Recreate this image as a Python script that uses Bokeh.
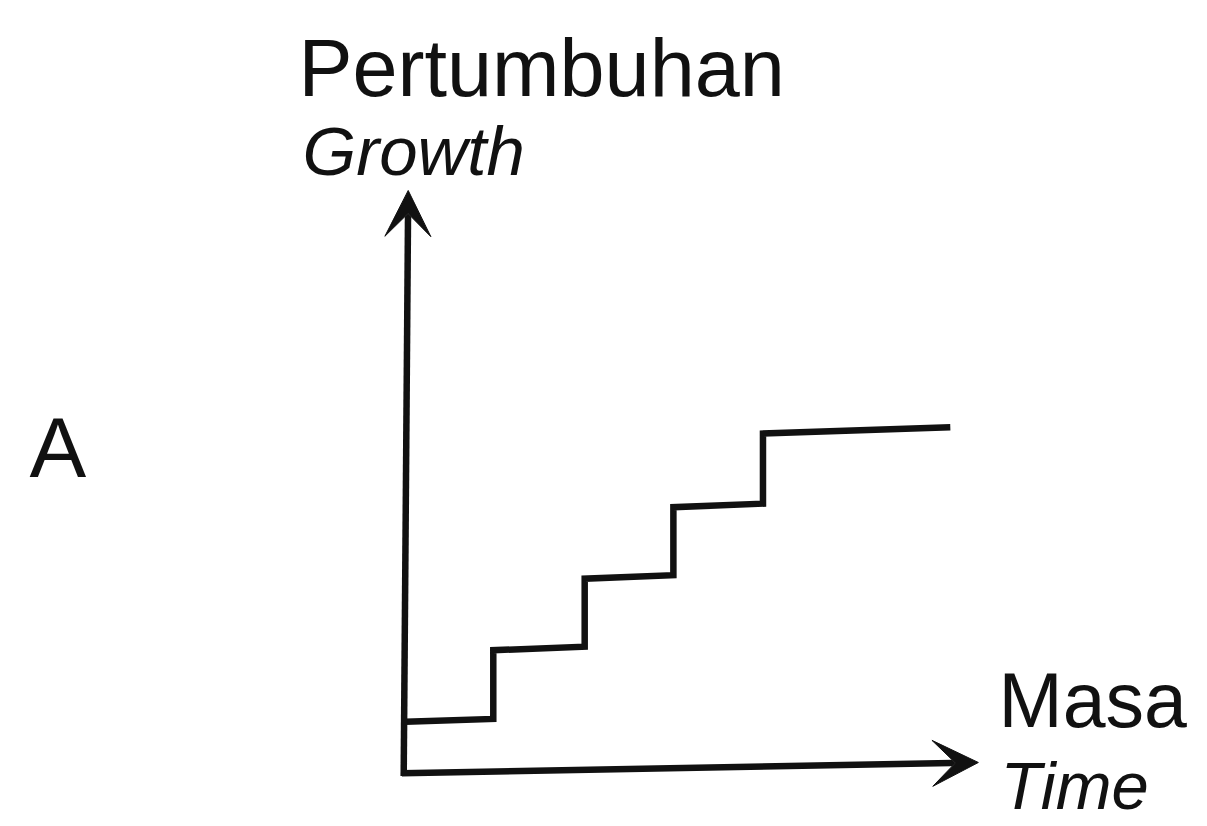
from bokeh.plotting import figure
from bokeh.models import Range1d, Arrow, VeeHead, Label
from bokeh.embed import file_html
from bokeh.resources import INLINE

# ---- data ----
# step-growth curve vertices: time (x) and growth (y)
step_time = [0.0, 0.97, 0.97, 1.98, 1.98, 2.96, 2.96, 3.95, 3.95, 6.02]
step_growth = [0.71, 0.75, 1.71, 1.76, 2.71, 2.76, 3.71, 3.76, 4.74, 4.83]

# axis arrows (start / tip) in data units
yaxis_start = (-0.02, -0.05)
yaxis_tip = (0.03, 8.14)
xaxis_start = (-0.04, -0.01)
xaxis_tip = (6.33, 0.14)

title_main = "Pertumbuhan"
title_sub = "Growth"
panel_label = "A"
xlabel_main = "Masa"
xlabel_sub = "Time"

# ---- layout helpers (page pixel -> data) ----
W, H = 1207, 826
OFF = 0                      # page offset of the frame
X0PX, Y0PX = 405.0, 772.0   # page pixel of data origin
XU, YU = 90.5, 71.5          # pixels per data unit


def px2x(px):
    return (px - X0PX) / XU


def py2y(py):
    return (Y0PX - py) / YU


p = figure(width=W, height=H, output_backend="svg", toolbar_location=None,
           x_axis_type=None, y_axis_type=None, min_border=0,
           x_range=Range1d(px2x(OFF), px2x(OFF + W)),
           y_range=Range1d(py2y(OFF + H), py2y(OFF)))
p.grid.visible = False
p.outline_line_color = None
p.background_fill_color = "white"
p.border_fill_color = "white"

ink = "#111111"

# axes as arrows
for (s, t) in [(yaxis_start, yaxis_tip), (xaxis_start, xaxis_tip)]:
    p.add_layout(Arrow(x_start=s[0], y_start=s[1], x_end=t[0], y_end=t[1],
                       line_width=6.5, line_color=ink,
                       end=VeeHead(size=46, fill_color=ink, line_color=ink,
                                   line_width=1)))

# step curve
p.line(step_time, step_growth, line_width=6.5, line_color=ink,
       line_join="miter", line_cap="butt")

font = "Liberation Sans"
labels = [
    (title_main, 298, 97, 81, "normal"),
    (title_sub, 302, 177, 69, "italic"),
    (panel_label, 29, 478, 85, "normal"),
    (xlabel_main, 998, 728, 77, "normal"),
    (xlabel_sub, 1000, 810, 67, "italic"),
]
for txt, lx, ly, size, style in labels:
    p.add_layout(Label(x=px2x(lx), y=py2y(ly - 0.37 * size), text=txt,
                       text_font=font,
                       text_font_size=f"{size}px", text_font_style=style,
                       text_color=ink, text_align="left",
                       text_baseline="alphabetic"))

open("out.html", "w").write(file_html(p, INLINE))
